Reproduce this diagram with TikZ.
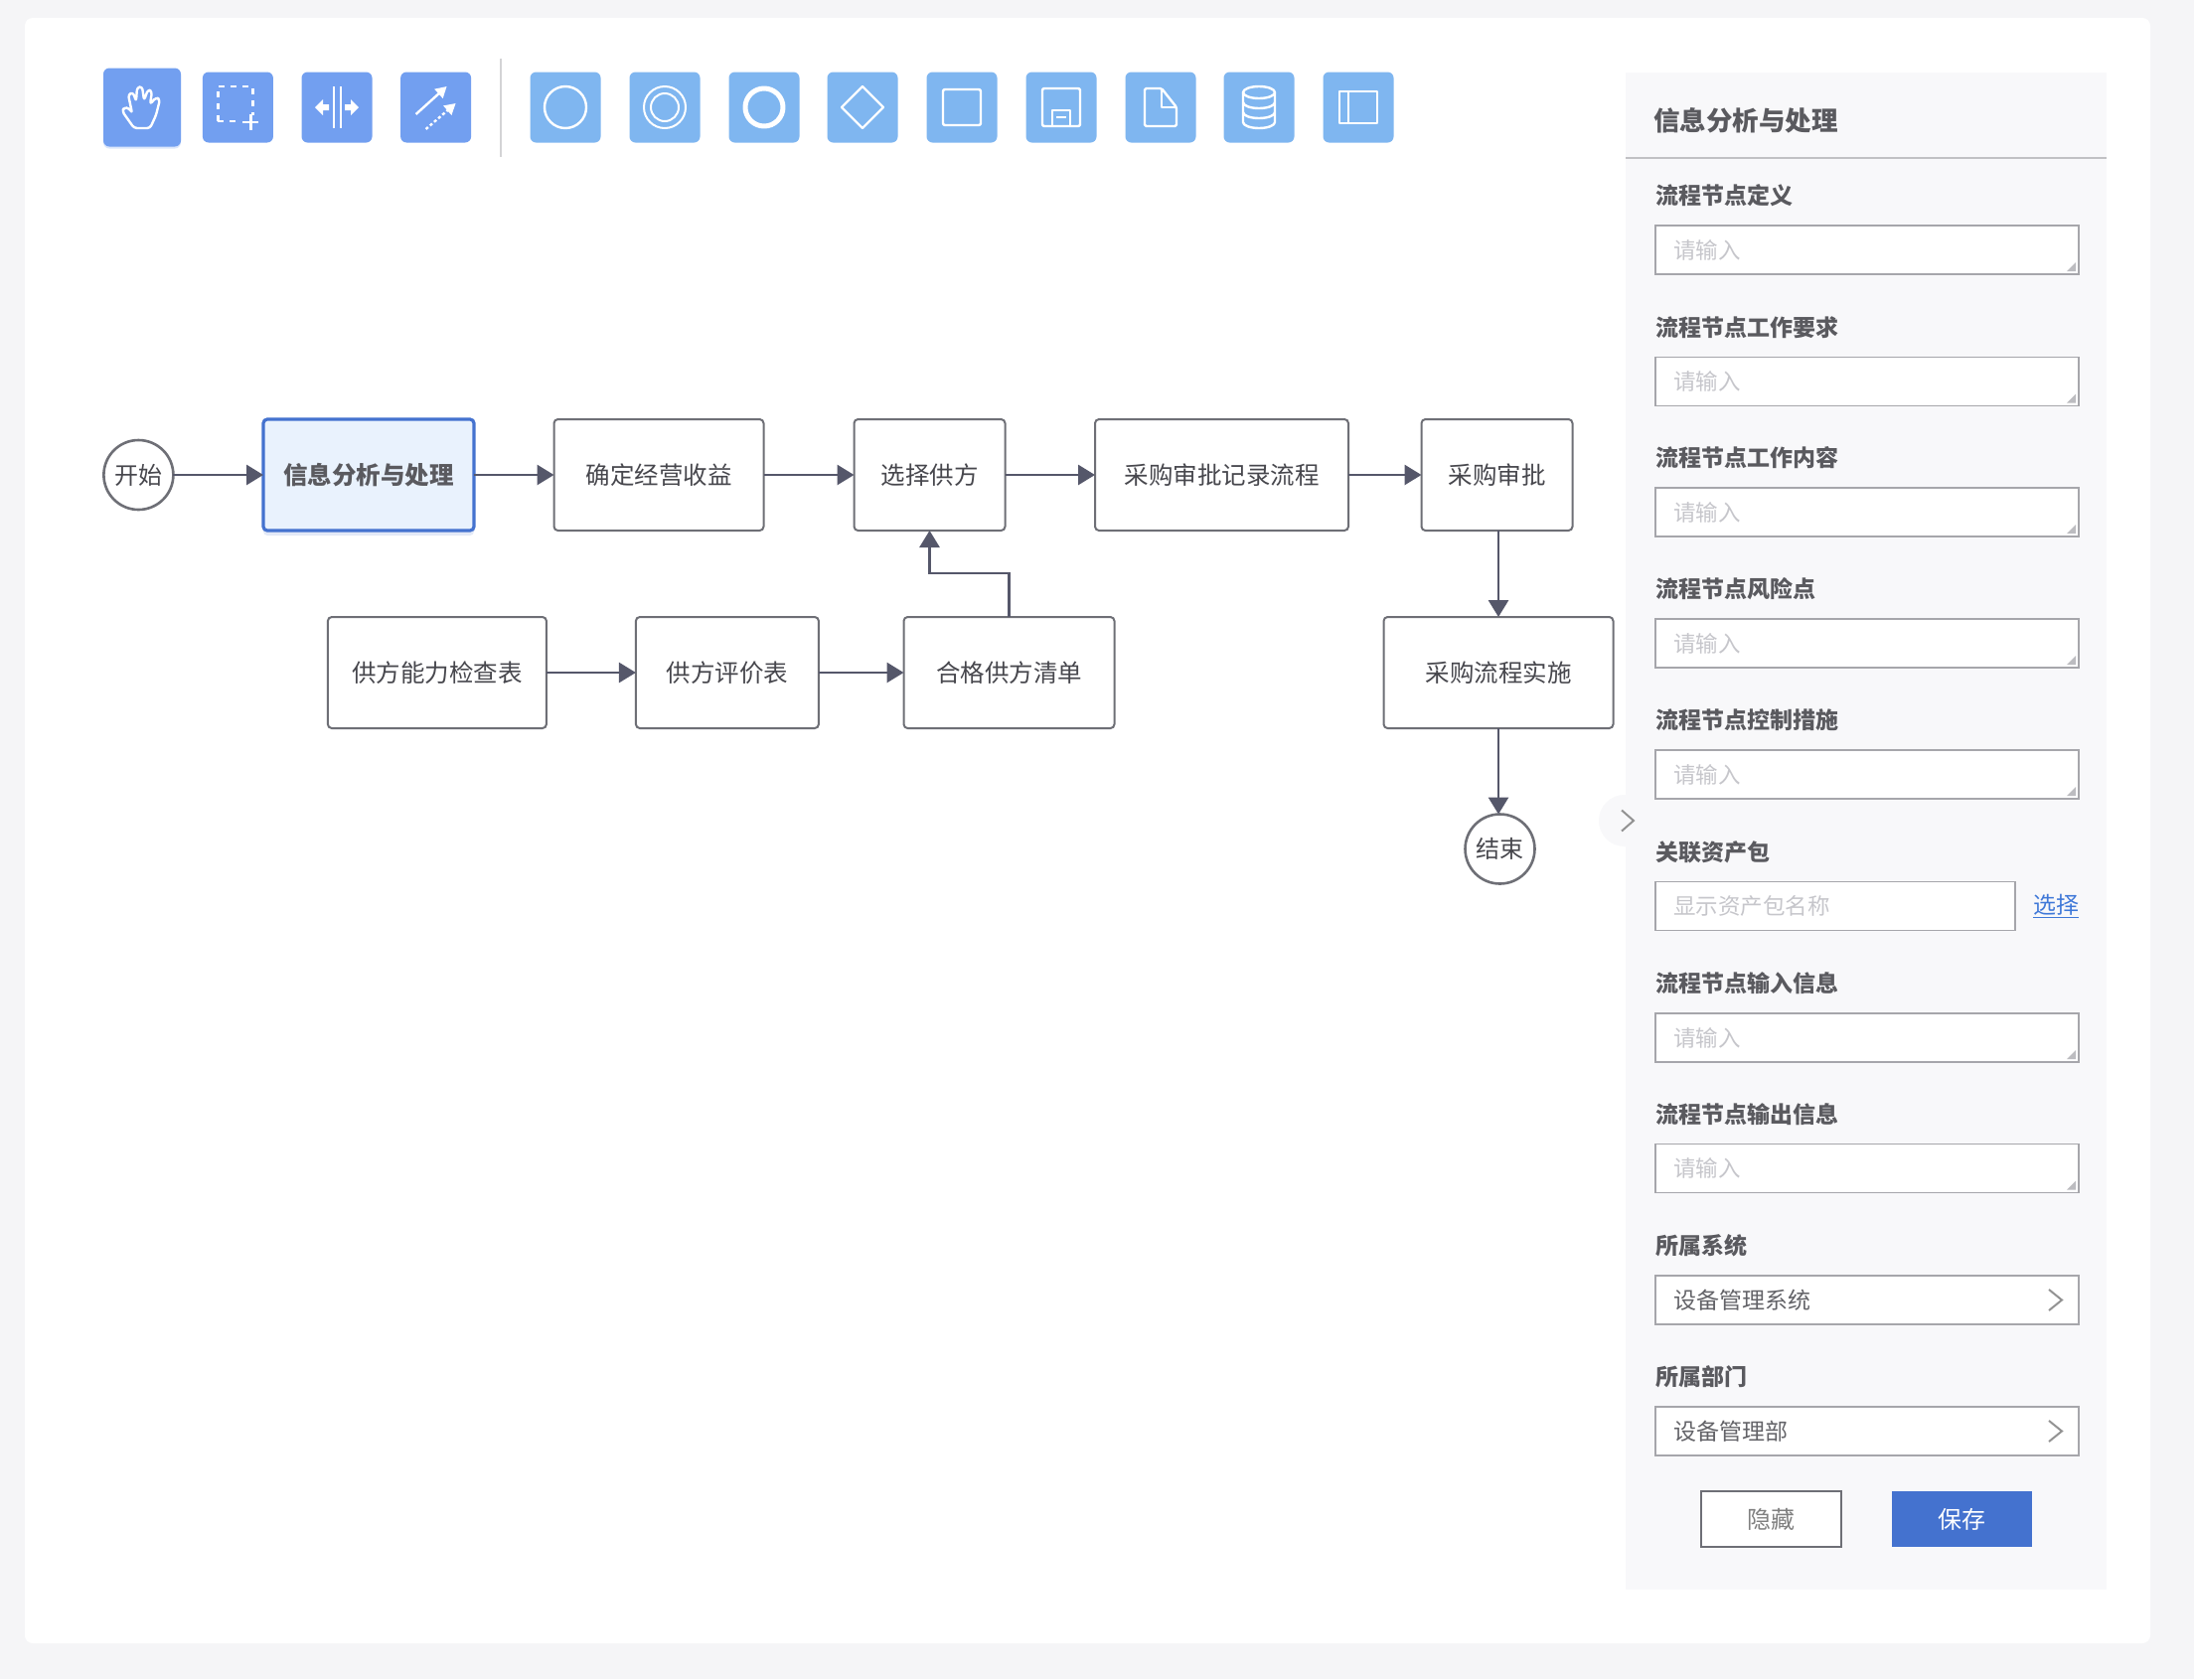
\documentclass[tikz,border=0pt]{standalone}
\usepackage{fontspec}
\setmainfont{Noto Sans CJK SC}
\usetikzlibrary{positioning,arrows.meta,shadows,shapes.geometric}
\definecolor{pagebg}{HTML}{F5F5F7}
\definecolor{sidebg}{HTML}{F8F8FA}
\definecolor{toolblue}{HTML}{729FF0}
\definecolor{shapeblue}{HTML}{7FB6F0}
\definecolor{flowgray}{HTML}{55576A}
\definecolor{boxedge}{HTML}{6E6F76}
\definecolor{selblue}{HTML}{4472CF}
\definecolor{selfill}{HTML}{E9F2FD}
\definecolor{inkgray}{HTML}{47474D}
\definecolor{holdgray}{HTML}{C6C6CB}
\definecolor{fieldedge}{HTML}{A6A6AB}
\definecolor{linkblue}{HTML}{3F78D8}
\tikzset{
  x=1pt, y=-1pt,
  flowbox/.style={draw=boxedge, line width=2pt, fill=white, rounded corners=4pt, outer sep=0pt,
    minimum height=112pt, inner sep=0pt, text=inkgray, font=\fontsize{24.5}{28}\selectfont},
  selbox/.style={flowbox, draw=selblue, line width=3.2pt, fill=selfill, text=inkgray!90, font=\fontsize{24.5}{28}\selectfont\bfseries,
    drop shadow={shadow xshift=0pt, shadow yshift=-5pt, opacity=.15, fill=selblue}},
  flowend/.style={circle, draw=boxedge, line width=2.6pt, fill=white, minimum size=70pt, outer sep=0pt,
    inner sep=0pt, text=inkgray, font=\fontsize{24}{28}\selectfont},
  flowarrow/.style={draw=flowgray, line width=2.9pt, -{Triangle[length=17pt,width=20pt]}},
  toolbtn/.style={fill=toolblue, rounded corners=6pt, minimum width=71pt, minimum height=71pt, inner sep=0pt},
  shapebtn/.style={toolbtn, fill=shapeblue},
  icon/.style={draw=white, line width=2.4pt, line join=round},
  fieldlabel/.style={anchor=west, inner sep=0pt, outer sep=0pt, text=inkgray!90, font=\fontsize{23}{26}\selectfont\bfseries},
  fieldbox/.style={draw=fieldedge, line width=1.8pt, fill=white, anchor=north west, minimum height=49pt,
    minimum width=426pt, text width=390pt, inner xsep=18pt, inner ysep=0pt, outer sep=0pt, align=left,
    text=holdgray, font=\fontsize{22.5}{26}\selectfont},
  pickbox/.style={fieldbox, text=inkgray!85, font=\fontsize{23}{26}\selectfont},
  chevron/.style={draw=gray!85, line width=2pt},
  formbtn/.style={minimum width=141pt, minimum height=56pt, inner sep=0pt, outer sep=0pt, font=\fontsize{24}{28}\selectfont},
}
\begin{document}
\begin{tikzpicture}
  % Page and panels
  \fill[pagebg] (0,0) rectangle (2208,1690);
  \fill[white, rounded corners=8pt] (25,18) rectangle (2164,1654);
  \fill[sidebg] (1636,73) rectangle (2120,1600);
  \draw[fieldedge!70, line width=1.5pt] (1636,159) -- (2120,159);
  \draw[fieldedge!50, line width=1.5pt] (504,59) -- (504,158);

  % Toolbar
  \node[toolbtn, minimum width=78pt, minimum height=79pt,
    drop shadow={shadow xshift=0pt, shadow yshift=-2pt, opacity=.25, fill=toolblue}] (hand) at (143,108) {};
  \foreach \n/\x in {area/239.4, split/339, link/438.6}
    \node[toolbtn] (\n) at (\x,108) {};
  \foreach \n/\x in {circ/569, ring/669, thick/769, gate/868, task/968, save/1068, docu/1168, data/1267, pool/1367}
    \node[shapebtn] (\n) at (\x,108) {};

  % Toolbar icons
  \begin{scope}[shift={(hand)}]
    \draw[icon, rounded corners=3pt] (-8,21) -- (-20,4) -- (-18,0) -- (-13,1) -- (-10,6) -- (-14,-13) -- (-9,-15)
      -- (-6,-6) -- (-5,-20) -- (0,-21) -- (2,-7) -- (6,-18) -- (10,-16) -- (8,-3) -- (14,-10) -- (18,-8) -- (14,8) -- (8,21) -- cycle;
  \end{scope}
  \begin{scope}[shift={(area)}]
    \draw[icon, dash pattern=on 6pt off 6pt] (-20,14) -- (-20,-21) -- (15,-21) -- (15,8);
    \draw[icon, dash pattern=on 6pt off 6pt] (-20,14) -- (3,14);
    \draw[icon] (13,7) -- (13,23) (5,15) -- (21,15);
  \end{scope}
  \begin{scope}[shift={(split)}]
    \draw[icon, line width=2pt] (-3.5,-21) -- (-3.5,21) (3.5,-21) -- (3.5,21);
    \fill[white] (-22,0) -- (-14,-8) -- (-14,-3) -- (-8,-3) -- (-8,3) -- (-14,3) -- (-14,8) -- cycle;
    \fill[white] (22,0) -- (14,-8) -- (14,-3) -- (8,-3) -- (8,3) -- (14,3) -- (14,8) -- cycle;
  \end{scope}
  \begin{scope}[shift={(link)}]
    \draw[icon, -{Triangle[length=11pt,width=12pt]}] (-20,7) -- (11,-21);
    \draw[icon, dash pattern=on 3pt off 2.5pt, -{Triangle[length=11pt,width=12pt]}] (-10,22) -- (20,-4);
  \end{scope}
  \draw[icon] (circ) circle (21);
  \draw[icon, line width=2pt] (ring) circle (21) (ring) circle (14);
  \draw[icon, line width=5pt] (thick) circle (19);
  \draw[icon] (gate) ++(0,-21) -- ++(21,21) -- ++(-21,21) -- ++(-21,-21) -- cycle;
  \draw[icon, rounded corners=2pt] (task) ++(-19,-18) rectangle ++(38,36);
  \begin{scope}[shift={(save)}]
    \draw[icon, rounded corners=2pt] (-19,-19) rectangle (19,19);
    \draw[icon, line width=2pt] (-9,19) -- (-9,3) -- (9,3) -- (9,19) (-5,10) -- (5,10);
  \end{scope}
  \begin{scope}[shift={(docu)}]
    \draw[icon, rounded corners=1.5pt] (-16,-19) -- (1,-19) -- (16,0) -- (16,19) -- (-16,19) -- cycle;
    \draw[icon, line width=2pt] (1,-19) -- (1,0) -- (16,0);
  \end{scope}
  \begin{scope}[shift={(data)}]
    \draw[icon] (0,-15) ellipse (16 and 6);
    \draw[icon] (-16,-15) -- (-16,15) arc[start angle=180, end angle=360, x radius=16, y radius=-6] -- (16,-15);
    \draw[icon] (-16,-5) arc[start angle=180, end angle=360, x radius=16, y radius=-6];
    \draw[icon] (-16,5) arc[start angle=180, end angle=360, x radius=16, y radius=-6];
  \end{scope}
  \begin{scope}[shift={(pool)}]
    \draw[icon] (-19,-16) rectangle (19,16);
    \draw[icon] (-10,-16) -- (-10,16);
  \end{scope}

  % Define nodes
  \node[flowend] (begin) at (139.4,478) {开始};
  \node[selbox, minimum width=212pt, right=90.6pt of begin] (info) {信息分析与处理};
  \node[flowbox, minimum width=211pt, right=80.5pt of info] (profit) {确定经营收益};
  \node[flowbox, minimum width=152pt, right=91pt of profit] (choose) {选择供方};
  \node[flowbox, minimum width=255pt, right=90.5pt of choose] (record) {采购审批记录流程};
  \node[flowbox, minimum width=152pt, right=73.5pt of record] (approve) {采购审批};
  \node[flowbox, minimum width=231pt, below=87pt of approve, xshift=1.5pt] (carry) {采购流程实施};
  \node[flowend, below=86.5pt of carry, xshift=1.5pt] (finish) {结束};
  \node[flowbox, minimum width=212pt, below=87pt of choose, xshift=80pt] (qualified) {合格供方清单};
  \node[flowbox, minimum width=184pt, left=85.6pt of qualified] (rating) {供方评价表};
  \node[flowbox, minimum width=220pt, left=90pt of rating] (ability) {供方能力检查表};

  % Connect nodes
  \draw[flowarrow] (begin) -- (info);
  \draw[flowarrow] (info) -- (profit);
  \draw[flowarrow] (profit) -- (choose);
  \draw[flowarrow] (choose) -- (record);
  \draw[flowarrow] (record) -- (approve);
  \draw[flowarrow] (approve.south -| carry) -- (carry);
  \draw[flowarrow] (carry) -- (finish.north -| carry);
  \draw[flowarrow] (ability) -- (rating);
  \draw[flowarrow] (rating) -- (qualified);
  \draw[flowarrow] (qualified.north) -- ++(0,-44) -| (choose.south);

  % Side form
  \node[anchor=west, inner sep=0pt, text=inkgray!90, font=\fontsize{26.5}{30}\selectfont\bfseries] (title) at (1664,121) {信息分析与处理};
  \foreach \n/\ly/\lab in {define/197/流程节点定义, demand/329.5/流程节点工作要求, content/461/流程节点工作内容,
      risk/593/流程节点风险点, control/725/流程节点控制措施, input/990/流程节点输入信息, output/1121.5/流程节点输出信息} {
    \node[fieldlabel] (label\n) at (1666,\ly) {\lab};
    \node[fieldbox, below=30pt of label\n.west, anchor=north west] (field\n) {请输入};
    \fill[fieldedge!75] ([xshift=-3pt,yshift=3pt]field\n.south east) -- ++(-9,0) -- ++(9,-9) -- cycle;
  }
  \node[fieldlabel] (labelasset) at (1666,857.5) {关联资产包};
  \node[fieldbox, minimum width=362pt, text width=326pt, below=30pt of labelasset.west, anchor=north west] (fieldasset) {显示资产包名称};
  \node[inner sep=0pt, text=linkblue, font=\fontsize{23}{26}\selectfont, right=18pt of fieldasset] (pick) {\underline{选择}};

  \foreach \n/\ly/\lab/\val in {system/1254/所属系统/设备管理系统, dept/1386/所属部门/设备管理部} {
    \node[fieldlabel] (label\n) at (1666,\ly) {\lab};
    \node[pickbox, below=30pt of label\n.west, anchor=north west] (field\n) {\val};
    \draw[chevron] ([xshift=-30pt,yshift=10.5pt]field\n.east) -- ++(13,10.5) -- ++(-13,10.5);
  }
  \node[formbtn, draw=boxedge, line width=1.8pt, fill=white, text=gray] (hide) at (1782.5,1529) {隐藏};
  \node[formbtn, fill=selblue, text=white, right=51pt of hide] (store) {保存};

  % Collapse handle
  \node[circle, fill=sidebg, minimum size=52pt, inner sep=0pt] (fold) at (1635,826) {};
  \draw[chevron] ([xshift=-3pt,yshift=10.5pt]fold.center) -- ++(12,10.5) -- ++(-12,10.5);
\end{tikzpicture}
\end{document}
